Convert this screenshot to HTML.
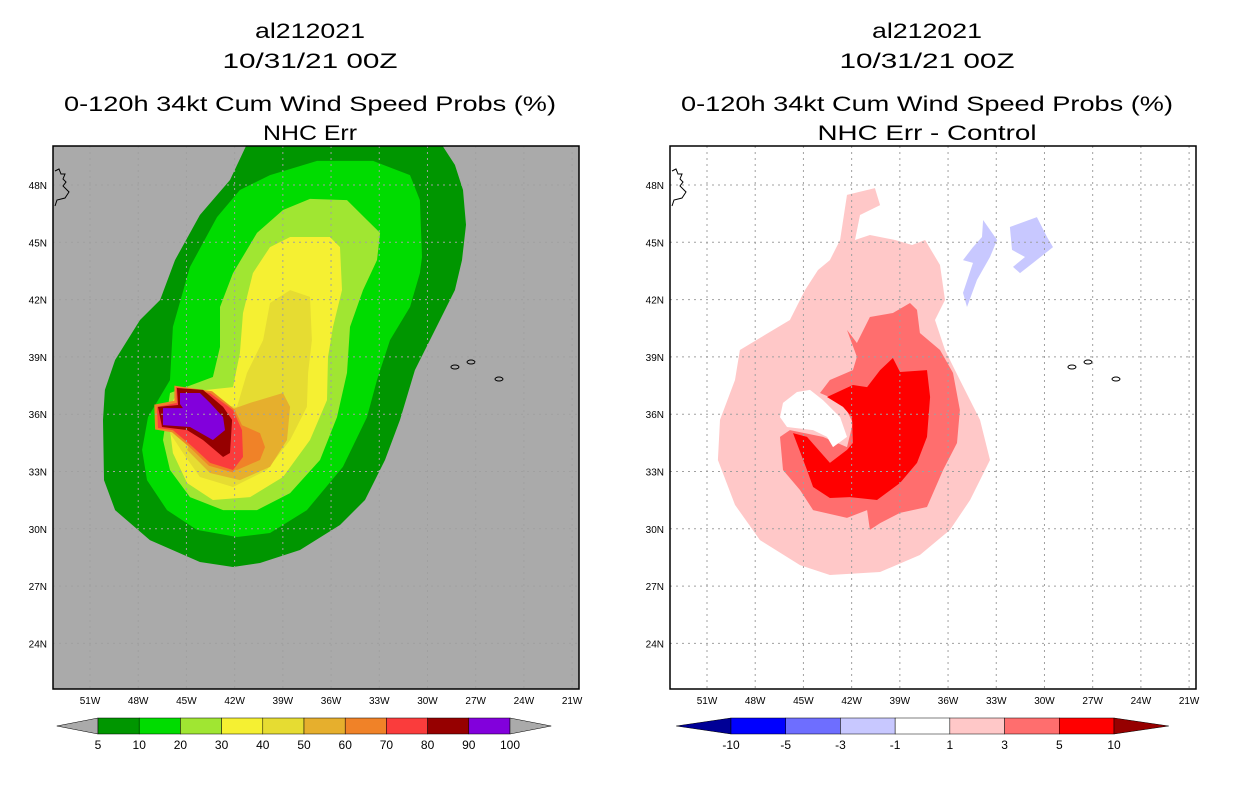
<!DOCTYPE html>
<html><head><meta charset="utf-8">
<style>
body{margin:0;background:#fff;}
svg{display:block;font-family:"Liberation Sans",sans-serif;}
</style></head>
<body>
<svg id="chart" width="1236" height="800" viewBox="0 0 1236 800"></svg>
<script>
const lonTicks=[-51,-48,-45,-42,-39,-36,-33,-30,-27,-24,-21];
const lonLabels=["51W","48W","45W","42W","39W","36W","33W","30W","27W","24W","21W"];
const latTicks=[24,27,30,33,36,39,42,45,48];
const latLabels=["24N","27N","30N","33N","36N","39N","42N","45N","48N"];
const leftLevels=["5","10","20","30","40","50","60","70","80","90","100"];
const leftColors=["#009600","#00dc00","#a0e632","#f5f032","#e6dc32","#e6af2d","#f08228","#fa3c3c","#960000","#8200dc"];
const rightLevels=["-10","-5","-3","-1","1","3","5","10"];
const rightColors=["#0000ff","#6e6eff","#c8c8ff","#ffffff","#ffc8c8","#ff6e6e","#ff0000"];
const cDarkGreen=[[-41.04,50.5],[-29.41,50.5],[-28.29,49.05],[-27.79,47.74],[-27.6,45.91],[-27.85,44.07],[-28.29,42.5],[-29.22,40.93],[-30.78,38.31],[-31.71,35.7],[-32.64,33.6],[-33.89,31.51],[-35.44,30.2],[-37.93,28.89],[-40.42,28.21],[-42.1,28.0],[-44.16,28.26],[-47.27,29.41],[-49.44,30.98],[-50.13,32.55],[-50.19,35.7],[-50.07,37.27],[-49.44,38.84],[-47.89,40.93],[-46.64,41.98],[-45.71,44.07],[-44.16,46.43],[-42.29,48.26]];
const cGreen=[[-39.8,48.52],[-36.87,49.26],[-33.39,49.26],[-31.09,48.52],[-30.47,47.21],[-30.34,44.23],[-30.47,43.39],[-31.09,41.61],[-32.33,39.88],[-33.14,37.79],[-33.76,35.85],[-35.26,33.24],[-37.5,30.98],[-39.8,29.78],[-41.85,29.57],[-44.34,29.94],[-46.21,30.98],[-47.45,32.55],[-47.76,34.13],[-47.39,35.85],[-46.02,37.79],[-45.84,40.57],[-44.78,43.71],[-43.1,46.32],[-41.67,47.74]];
const cLightGreen=[[-37.31,47.27],[-35.01,47.21],[-33.76,46.17],[-32.95,45.49],[-33.14,44.07],[-34.01,42.5],[-34.82,40.57],[-35.01,38.16],[-35.63,35.85],[-36.69,33.6],[-38.55,31.87],[-40.61,30.98],[-42.72,30.98],[-44.78,31.66],[-46.02,33.08],[-46.46,34.65],[-46.02,37.11],[-43.35,37.95],[-42.91,39.52],[-42.91,41.61],[-42.1,43.39],[-40.61,45.49],[-38.99,46.69]];
const cYellow=[[-38.55,45.28],[-36.07,45.28],[-35.44,44.75],[-35.32,42.5],[-35.88,40.57],[-36.19,39.0],[-36.25,36.74],[-37.31,34.65],[-38.99,32.71],[-41.04,31.66],[-43.35,31.51],[-44.96,32.4],[-45.84,33.97],[-46.02,35.17],[-46.21,36.06],[-45.59,37.11],[-42.1,37.42],[-41.67,39.2],[-41.48,41.3],[-40.86,43.39],[-39.8,44.75]];
const cGold=[[-38.55,42.5],[-37.31,42.14],[-37.19,39.88],[-37.43,38.16],[-37.5,36.38],[-38.55,34.65],[-39.99,33.08],[-42.1,32.19],[-44.16,32.71],[-45.21,33.97],[-46.02,35.01],[-44.78,36.74],[-41.85,36.38],[-41.23,38.16],[-40.23,39.88],[-39.8,41.82]];
const cOrangeGold=[[-38.99,37.11],[-38.55,36.38],[-38.74,34.65],[-39.8,33.24],[-41.67,32.55],[-43.53,32.92],[-44.96,34.13],[-44.16,35.85],[-42.29,36.22],[-41.04,36.59]];
const cOrange=[[-40.42,35.01],[-40.11,34.28],[-40.42,33.6],[-41.85,33.08],[-43.53,33.45],[-44.59,34.65],[-43.72,35.7],[-41.85,35.54]];
const cRim=[[-45.75,37.5],[-43.4,37.2],[-42.0,36.25],[-41.4,35.17],[-41.35,33.7],[-42.1,32.95],[-43.6,33.3],[-44.7,34.2],[-45.9,35.05],[-46.95,35.2],[-47.0,36.5],[-45.75,36.7]];
const cRed=[[-45.65,37.42],[-43.53,37.11],[-42.1,36.22],[-41.54,35.17],[-41.48,33.76],[-42.1,33.08],[-43.53,33.45],[-44.59,34.28],[-45.84,35.17],[-46.77,35.28],[-46.83,36.38],[-45.59,36.59]];
const cDarkRed=[[-45.59,37.37],[-43.97,37.27],[-42.72,36.38],[-42.16,35.7],[-42.29,33.97],[-42.72,33.76],[-43.97,34.65],[-44.96,35.17],[-46.52,35.33],[-46.77,36.38],[-45.52,36.48]];
const cPurple=[[-45.4,37.11],[-44.16,37.11],[-43.53,36.59],[-42.72,35.85],[-42.6,35.17],[-43.35,34.65],[-44.78,35.33],[-46.46,35.43],[-46.46,36.32],[-45.21,36.32],[-45.4,36.53]];
const dPink=[[-42.29,47.48],[-40.55,47.84],[-40.23,46.95],[-41.48,46.43],[-41.79,45.12],[-40.86,45.38],[-39.3,45.12],[-38.24,44.86],[-37.43,45.12],[-36.5,43.81],[-36.19,41.98],[-36.81,40.93],[-36.19,39.36],[-35.26,37.79],[-34.01,35.7],[-33.39,33.6],[-34.01,32.55],[-34.63,31.51],[-35.88,29.94],[-37.75,28.63],[-40.23,27.74],[-43.35,27.58],[-45.21,28.1],[-47.7,29.41],[-49.26,31.25],[-50.32,33.6],[-50.19,35.7],[-49.26,37.79],[-48.95,39.36],[-47.39,40.15],[-45.84,40.93],[-44.9,42.5],[-44.09,43.55],[-43.35,44.07],[-42.72,45.12]];
const dMedium=[[-42.29,40.41],[-41.67,39.73],[-40.86,41.09],[-39.43,41.3],[-38.37,41.82],[-37.93,41.46],[-37.75,40.25],[-36.5,39.36],[-35.69,38.16],[-35.26,36.22],[-35.44,34.49],[-36.31,33.08],[-37.31,31.14],[-38.99,30.83],[-40.23,30.3],[-40.86,29.94],[-41.04,30.98],[-42.29,30.57],[-44.4,30.98],[-45.21,32.03],[-46.27,33.08],[-46.46,34.81],[-45.84,35.17],[-43.78,34.81],[-42.29,34.28],[-41.92,35.54],[-42.54,36.59],[-43.97,37.11],[-43.35,37.79],[-41.92,38.31],[-41.67,39.0]];
const dHole=[[-45.4,37.16],[-44.59,37.27],[-43.78,36.74],[-42.72,35.85],[-42.29,34.81],[-43.16,34.28],[-43.53,34.81],[-44.4,35.17],[-46.02,35.33],[-46.46,35.85],[-46.27,36.59]];
const dRed=[[-43.53,36.9],[-41.92,37.53],[-41.04,37.42],[-40.23,38.31],[-39.43,38.94],[-38.99,38.21],[-37.31,38.31],[-37.12,36.9],[-37.31,34.81],[-37.93,33.45],[-38.99,32.4],[-40.42,31.51],[-42.1,31.66],[-43.35,31.61],[-44.4,32.19],[-44.78,33.08],[-45.65,35.01],[-44.78,34.81],[-43.35,33.45],[-42.29,34.13],[-41.92,34.49],[-41.98,35.85],[-42.54,36.38]];
const dBlue1=[[-33.82,46.17],[-32.95,45.12],[-33.39,44.23],[-34.2,43.03],[-34.82,41.61],[-35.07,42.35],[-34.45,43.92],[-35.07,44.07],[-34.45,44.75],[-33.89,45.28]];
const dBlue2=[[-32.15,45.8],[-30.47,46.32],[-29.84,45.28],[-29.47,44.75],[-30.71,43.92],[-31.52,43.39],[-31.96,43.71],[-31.21,44.23],[-32.02,44.6]];
const islands=[[-28.29,38.47],[-27.29,38.73],[-25.55,37.84]];

const NS="http://www.w3.org/2000/svg";
const svg=document.getElementById('chart');
function el(tag,attrs,parent){const e=document.createElementNS(NS,tag);for(const k in attrs)e.setAttribute(k,attrs[k]);(parent||svg).appendChild(e);return e;}
function makePanel(x0){
  const X=lon=>x0+37+(lon+51)*16.07;
  const Y=lat=>185-(lat-48)*19.1;
  return {X,Y,x0};
}
function poly(p,pts,fill,name,parent){
  const e=el('polygon',{points:pts.map(q=>p.X(q[0]).toFixed(1)+','+p.Y(q[1]).toFixed(1)).join(' '),fill:fill},parent);
  
  
}
function text(x,y,s,size,anchor,name,len){
  const a={x:x,y:y,'font-size':size,'text-anchor':anchor||'middle',fill:'#000'};
  if(len){a.textLength=len;a.lengthAdjust='spacingAndGlyphs';}
  const t=el('text',a);
  t.textContent=s;
  
  
  return t;
}
function drawPanel(x0,bg,shapes,sub,subLen,cx,idx){
  const p=makePanel(x0);
  const g=el('g',{});
  
  
  const cp=el('clipPath',{id:'clip'+idx},g);
  el('rect',{x:x0,y:146,width:526,height:543},cp);
  const bgR=el('rect',{x:x0,y:146,width:526,height:543,fill:bg},g);
  
  
  const inner=el('g',{'clip-path':'url(#clip'+idx+')'},g);
  shapes.forEach(s=>poly(p,s[0],s[1],s[2],inner));
  islands.forEach(c=>{const e=el('ellipse',{cx:p.X(c[0]),cy:p.Y(c[1]),rx:4,ry:2,fill:'none',stroke:'#000','stroke-width':1},inner);
    
    });
  const nf=el('path',{d:`M${x0+2},171 l4,-2 l2,5 l4,0 l-2,5 l3,3 l-3,4 l6,6 l-4,6 l-8,2 l-2,6`,fill:'none',stroke:'#000','stroke-width':1},inner);
  
  
  lonTicks.forEach((lon,i)=>{
    const gl=el('line',{x1:p.X(lon),x2:p.X(lon),y1:146,y2:689,stroke:'#a0a0a0','stroke-dasharray':'2,4','stroke-width':1},inner);
    
    
    text(p.X(lon),704,lonLabels[i],10,'middle','lon-tick-label');
  });
  latTicks.forEach((lat,i)=>{
    const gl=el('line',{x1:x0,x2:x0+526,y1:p.Y(lat),y2:p.Y(lat),stroke:'#a0a0a0','stroke-dasharray':'2,4','stroke-width':1},inner);
    
    
    text(x0-6,p.Y(lat)+4,latLabels[i],10,'end','lat-tick-label');
  });
  const fr=el('rect',{x:x0,y:146,width:526,height:543,fill:'none',stroke:'#000','stroke-width':1.5},g);
  
  
  text(cx,38,'al212021',21,'middle','title-storm',110);
  text(cx,68,'10/31/21 00Z',21,'middle','title-date',175);
  text(cx,111,'0-120h 34kt Cum Wind Speed Probs (%)',21,'middle','title-product',492);
  text(cx,140,sub,21,'middle','subtitle',subLen);
}
drawPanel(53,'#aaaaaa',[
 [cDarkGreen,leftColors[0],'contour-5'],[cGreen,leftColors[1],'contour-10'],[cLightGreen,leftColors[2],'contour-20'],
 [cYellow,leftColors[3],'contour-30'],[cGold,leftColors[4],'contour-40'],[cOrangeGold,leftColors[5],'contour-50'],
 [cOrange,leftColors[6],'contour-60'],[cRim,leftColors[6],'contour-60-rim'],[cRed,leftColors[7],'contour-70'],[cDarkRed,leftColors[8],'contour-80'],[cPurple,leftColors[9],'contour-90']
],'NHC Err',94,310,0);
drawPanel(670,'#ffffff',[
 [dPink,rightColors[4],'diff-1-3'],[dMedium,rightColors[5],'diff-3-5'],[dHole,'#ffffff','diff-near-zero'],
 [dRed,rightColors[6],'diff-5-10'],[dBlue1,rightColors[2],'diff-neg-1-3-a'],[dBlue2,rightColors[2],'diff-neg-1-3-b']
],'NHC Err - Control',219,927,1);

function colorbar(xs,xe,colors,levels,lt,rt,name){
  const g=el('g',{});
  
  
  const n=colors.length, w=(xe-xs)/n, y0=718, y1=734, tw=w;
  const l=el('polygon',{points:`${xs-tw},${(y0+y1)/2} ${xs},${y0} ${xs},${y1}`,fill:lt,stroke:'#000','stroke-width':0.5},g);
  
  
  colors.forEach((c,i)=>{
    const r=el('rect',{x:xs+i*w,y:y0,width:w,height:y1-y0,fill:c,stroke:'#000','stroke-width':0.5},g);
    
    
  });
  const r=el('polygon',{points:`${xe},${y0} ${xe+tw},${(y0+y1)/2} ${xe},${y1}`,fill:rt,stroke:'#000','stroke-width':0.5},g);
  
  
  levels.forEach((s,i)=>text(xs+i*w,749,s,12,'middle','colorbar-label'));
}
colorbar(98,510,leftColors,leftLevels,'#aaaaaa','#aaaaaa','colorbar-left');
colorbar(731,1114,rightColors,rightLevels,'#000096','#960000','colorbar-right');
</script>
</body></html>
